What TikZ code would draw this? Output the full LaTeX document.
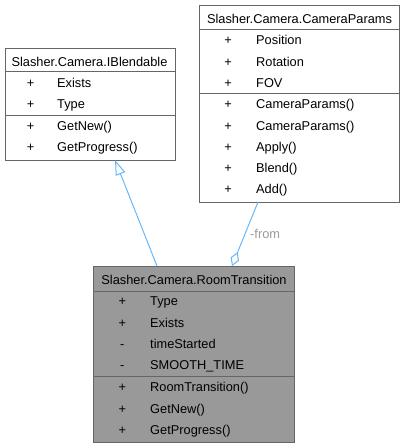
\documentclass[tikz,border=0pt]{standalone}
\usepackage{fontspec}
\setmainfont{Liberation Sans}
\usetikzlibrary{arrows.meta,calc}
\definecolor{edgeblue}{HTML}{63B8FF}
\definecolor{boxline}{HTML}{666666}
\definecolor{boxfill}{HTML}{999999}
\definecolor{labelgray}{HTML}{9A9A9A}
\begin{document}
\begin{tikzpicture}[x=1pt,y=-1pt,
    box/.style={draw=boxline, line width=1pt, anchor=north west, inner sep=0pt, outer sep=0pt},
    sep/.style={draw=boxline, line width=1pt},
    txt/.style={anchor=base west, inner sep=0pt, font=\fontsize{12.8}{15}\selectfont},
    vis/.style={anchor=base, inner sep=0pt, font=\fontsize{12.8}{15}\selectfont},
    edgelabel/.style={anchor=base west, inner sep=0pt, text=labelgray, font=\fontsize{12.8}{15}\selectfont},
    inherit/.style={draw=edgeblue, line width=1pt, -{Triangle[open, length=15pt, width=10pt]}},
    aggreg/.style={draw=edgeblue, line width=1pt, -{Diamond[open, length=15pt, width=9pt]}}]

        \useasboundingbox (0,0) rectangle (405,448);

        % Slasher.Camera.IBlendable
        \node[box, fill=white, minimum width=170pt, minimum height=112pt] (ib) at (5,48) {};
        \draw[sep] (5,71) -- (175,71);
        \draw[sep] (5,115) -- (175,115);
        \node[vis] (ibTitle) at (89.5,66.3) {Slasher.Camera.IBlendable};
        \node[vis] (ibV1) at (30.7,87) {+};
        \node[vis] (ibV2) at (30.7,108) {+};
        \node[vis] (ibV3) at (30.7,130.3) {+};
        \node[vis] (ibV4) at (30.7,151.3) {+};
        \node[txt] (ibExists) at (57,87) {Exists};
        \node[txt] (ibType) at (57,108) {Type};
        \node[txt] (ibGetNew) at (57,130.3) {GetNew()};
        \node[txt] (ibGetProgress) at (57,151.3) {GetProgress()};

        % Slasher.Camera.CameraParams
        \node[box, fill=white, minimum width=200pt, minimum height=197pt] (cp) at (199,5) {};
        \draw[sep] (199,29) -- (399,29);
        \draw[sep] (199,93) -- (399,93);
        \node[vis] (cpTitle) at (299.5,23) {Slasher.Camera.CameraParams};
        \node[vis] (cpV1) at (228,44) {+};
        \node[vis] (cpV2) at (228,66) {+};
        \node[vis] (cpV3) at (228,87) {+};
        \node[vis] (cpV4) at (228,108.5) {+};
        \node[vis] (cpV5) at (228,130) {+};
        \node[vis] (cpV6) at (228,151) {+};
        \node[vis] (cpV7) at (228,172) {+};
        \node[vis] (cpV8) at (228,193) {+};
        \node[txt] (cpPosition) at (256,44) {Position};
        \node[txt] (cpRotation) at (256,66) {Rotation};
        \node[txt] (cpFOV) at (256,87) {FOV};
        \node[txt] (cpCtorA) at (256,108.5) {CameraParams()};
        \node[txt] (cpCtorB) at (256,130) {CameraParams()};
        \node[txt] (cpApply) at (256,151) {Apply()};
        \node[txt] (cpBlend) at (256,172) {Blend()};
        \node[txt] (cpAdd) at (256,193) {Add()};

        % Slasher.Camera.RoomTransition
        \node[box, fill=boxfill, minimum width=201pt, minimum height=176pt] (rt) at (93,266) {};
        \draw[sep] (93,291) -- (294,291);
        \draw[sep] (93,376) -- (294,376);
        \node[vis] (rtTitle) at (194,284) {Slasher.Camera.RoomTransition};
        \node[vis] (rtV1) at (122.3,305.6) {+};
        \node[vis] (rtV2) at (122.3,327.3) {+};
        \node[vis] (rtV3) at (122.3,348.3) {-};
        \node[vis] (rtV4) at (122.3,369.3) {-};
        \node[vis] (rtV5) at (122.3,391.3) {+};
        \node[vis] (rtV6) at (122.3,413) {+};
        \node[vis] (rtV7) at (122.3,434) {+};
        \node[txt] (rtType) at (150,305.6) {Type};
        \node[txt] (rtExists) at (150,327.3) {Exists};
        \node[txt] (rtTimeStarted) at (150,348.3) {timeStarted};
        \node[txt] (rtSmoothTime) at (150,369.3) {SMOOTH\_TIME};
        \node[txt] (rtCtor) at (150,391.3) {RoomTransition()};
        \node[txt] (rtGetNew) at (150,413) {GetNew()};
        \node[txt] (rtGetProgress) at (150,434) {GetProgress()};

        % relations
        \draw[inherit] ($(rt.north west)+(64,0)$) -- ($(ib.south west)+(110,0)$);
        \draw[aggreg] ($(cp.south west)+(59,0)$) -- ($(rt.north west)+(139,0)$);
        \node[edgelabel] (fromLabel) at (250,238.5) {-from};

      \end{tikzpicture}
\end{document}
